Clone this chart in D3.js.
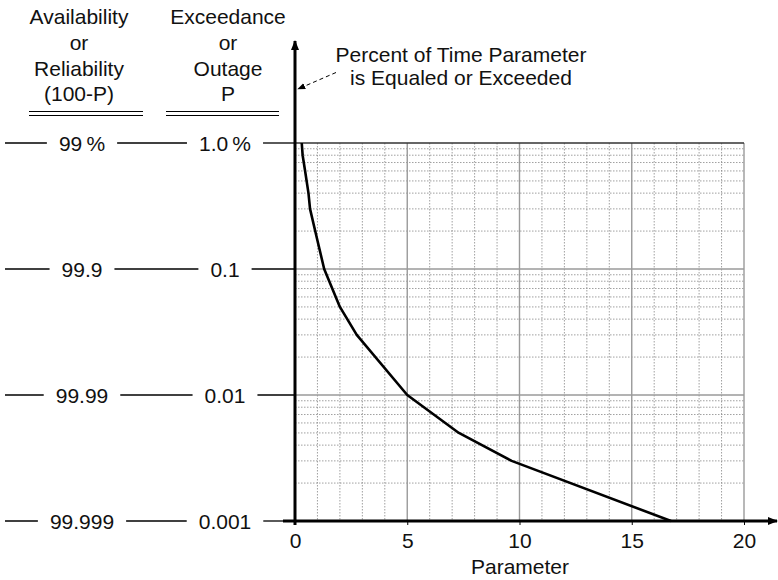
<!DOCTYPE html>
<html>
<head>
<meta charset="utf-8">
<script src="https://cdn.jsdelivr.net/npm/d3@7"></script>
<style>
  body { margin: 0; background: #fff; }
  svg text { font-family: "Liberation Sans", Arial, Helvetica, sans-serif; fill: #111; }
</style>
</head>
<body>
<div id="chart"></div>
<script>
// row labels on the left (one per decade of P)
const pValues = [1.0, 0.1, 0.01, 0.001]
const pLabels = ["1.0\u2009%", "0.1", "0.01", "0.001"]
const availLabels = ["99\u2009%", "99.9", "99.99", "99.999"]

// x axis ticks
const xTicks = [0, 5, 10, 15, 20]

// the curve: parameter vs exceedance P (%)
const curveParam = [0.3, 0.34, 0.45, 0.6, 0.67, 0.9, 1.3, 2.0, 2.75, 5.0, 7.3, 9.65, 16.75]
const curveP     = [1.0, 0.8, 0.6, 0.4, 0.3, 0.2, 0.1, 0.05, 0.03, 0.01, 0.005, 0.003, 0.001]

// column headers
const availHeader = ["Availability", "or", "Reliability", "(100-P)"]
const exceedHeader = ["Exceedance", "or", "Outage", "P"]
const noteLines = ["Percent of Time Parameter", "is Equaled or Exceeded"]

let width = 778, height = 580
let plot = {left: 295, right: 744, top: 143, bottom: 521}

let xScale = d3.scaleLinear().domain([0, 20]).range([plot.left, plot.right])
let yScale = d3.scaleLog().domain([0.001, 1]).range([plot.bottom, plot.top])

let svg = d3.select("#chart").append("svg")
    .attr("width", width)
    .attr("height", height)

let defs = svg.append("defs")
defs.append("marker")
    .attr("id", "arrowBig")
    .attr("viewBox", "0 0 10 10")
    .attr("refX", 9).attr("refY", 5)
    .attr("markerWidth", 10).attr("markerHeight", 10)
    .attr("markerUnits", "userSpaceOnUse")
    .attr("orient", "auto")
  .append("path")
    .attr("d", "M0,1 L10,5 L0,9 Z")
    .attr("fill", "#000")
defs.append("marker")
    .attr("id", "arrowSmall")
    .attr("viewBox", "0 0 10 10")
    .attr("refX", 9).attr("refY", 5)
    .attr("markerWidth", 8).attr("markerHeight", 8)
    .attr("markerUnits", "userSpaceOnUse")
    .attr("orient", "auto")
  .append("path")
    .attr("d", "M0,1 L10,5 L0,9 Z")
    .attr("fill", "#000")

// minor grid lines (dotted)
let grid = svg.append("g").attr("class", "grid")
let minorX = d3.range(1, 20).filter(d => d % 5 !== 0)
grid.selectAll(".vminor").data(minorX).enter().append("line")
    .attr("x1", d => xScale(d)).attr("x2", d => xScale(d))
    .attr("y1", plot.top).attr("y2", plot.bottom)
    .attr("stroke", "#888").attr("stroke-width", 0.8)
    .attr("stroke-dasharray", "1.5,1.5")

let minorY = []
pValues.slice(1).forEach(base => {
  d3.range(2, 10).forEach(k => minorY.push(base * k))
})
grid.selectAll(".hminor").data(minorY).enter().append("line")
    .attr("x1", plot.left).attr("x2", plot.right)
    .attr("y1", d => yScale(d)).attr("y2", d => yScale(d))
    .attr("stroke", "#888").attr("stroke-width", 0.8)
    .attr("stroke-dasharray", "1.5,1.5")

// major grid lines
grid.selectAll(".vmajor").data(xTicks.filter(d => d > 0)).enter().append("line")
    .attr("x1", d => xScale(d)).attr("x2", d => xScale(d))
    .attr("y1", plot.top).attr("y2", plot.bottom)
    .attr("stroke", "#9a9a9a").attr("stroke-width", 1.4)
grid.selectAll(".hmajor").data(pValues.slice(1, 3)).enter().append("line")
    .attr("x1", plot.left).attr("x2", plot.right)
    .attr("y1", d => yScale(d)).attr("y2", d => yScale(d))
    .attr("stroke", "#9a9a9a").attr("stroke-width", 1.4)

// top border
svg.append("line")
    .attr("x1", plot.left).attr("x2", plot.right)
    .attr("y1", yScale(1)).attr("y2", yScale(1))
    .attr("stroke", "#333").attr("stroke-width", 1.6)

// headers
let fontSize = 21
svg.append("g").selectAll("text").data(availHeader).enter().append("text")
    .attr("x", 79).attr("y", (d, i) => 24 + i * 25.8)
    .attr("text-anchor", "middle").attr("font-size", fontSize)
    .text(d => d)
svg.append("g").selectAll("text").data(exceedHeader).enter().append("text")
    .attr("x", 228).attr("y", (d, i) => 24 + i * 25.8)
    .attr("text-anchor", "middle").attr("font-size", fontSize)
    .text(d => d)

// double rules under headers
;[[29, 143], [166, 279]].forEach(([a, b]) => {
  [111.5, 115.5].forEach(yy => {
    svg.append("line").attr("x1", a).attr("x2", b).attr("y1", yy).attr("y2", yy)
      .attr("stroke", "#000").attr("stroke-width", 1)
  })
})

// row labels with connecting lines
let rows = svg.append("g").attr("class", "rows")
pValues.forEach((p, i) => {
  let yy = yScale(p)
  let t1 = rows.append("text")
      .attr("x", 82).attr("y", yy).attr("dy", "0.36em")
      .attr("text-anchor", "middle").attr("font-size", fontSize)
      .text(availLabels[i])
  let t2 = rows.append("text")
      .attr("x", 225).attr("y", yy).attr("dy", "0.36em")
      .attr("text-anchor", "middle").attr("font-size", fontSize)
      .text(pLabels[i])
  let w1 = t1.node().getComputedTextLength()
  let w2 = t2.node().getComputedTextLength()
  let gap = 12
  let segs = [
    [5, 82 - w1 / 2 - gap],
    [82 + w1 / 2 + gap, 225 - w2 / 2 - gap],
    [225 + w2 / 2 + gap, plot.left]
  ]
  segs.forEach(s => {
    rows.append("line").attr("x1", s[0]).attr("x2", s[1])
      .attr("y1", yy).attr("y2", yy)
      .attr("stroke", "#000").attr("stroke-width", 1.3)
  })
})

// the curve
let line = d3.line()
    .x(d => xScale(d[0]))
    .y(d => yScale(d[1]))
svg.append("path")
    .datum(curveParam.map((d, i) => [d, curveP[i]]))
    .attr("d", line)
    .attr("fill", "none")
    .attr("stroke", "#000")
    .attr("stroke-width", 2.6)
    .attr("stroke-linejoin", "round")

// x axis ticks and labels
let xAxis = d3.axisBottom(xScale).tickValues(xTicks).tickSize(4).tickPadding(8)
let gx = svg.append("g")
    .attr("transform", "translate(0," + plot.bottom + ")")
    .call(xAxis)
gx.select(".domain").remove()
gx.selectAll(".tick line").attr("stroke", "#000")
gx.selectAll(".tick text")
    .attr("font-size", fontSize)
    .attr("font-family", "Liberation Sans, Arial, Helvetica, sans-serif")
    .attr("fill", "#111")

svg.append("text")
    .attr("x", 520).attr("y", 574)
    .attr("text-anchor", "middle").attr("font-size", fontSize)
    .text("Parameter")

// main axes (thick with arrows)
svg.append("line")
    .attr("x1", plot.left - 12).attr("x2", 777)
    .attr("y1", plot.bottom).attr("y2", plot.bottom)
    .attr("stroke", "#000").attr("stroke-width", 3)
    .attr("marker-end", "url(#arrowBig)")
svg.append("line")
    .attr("x1", plot.left).attr("x2", plot.left)
    .attr("y1", plot.bottom + 4).attr("y2", 41)
    .attr("stroke", "#000").attr("stroke-width", 3)
    .attr("marker-end", "url(#arrowBig)")

// annotation
svg.append("g").selectAll("text").data(noteLines).enter().append("text")
    .attr("x", 461).attr("y", (d, i) => 62 + i * 23)
    .attr("text-anchor", "middle").attr("font-size", fontSize)
    .text(d => d)
svg.append("line")
    .attr("x1", 336).attr("y1", 72.5)
    .attr("x2", 298).attr("y2", 89)
    .attr("stroke", "#000").attr("stroke-width", 1)
    .attr("stroke-dasharray", "4,3")
    .attr("marker-end", "url(#arrowSmall)")
</script>
</body>
</html>
